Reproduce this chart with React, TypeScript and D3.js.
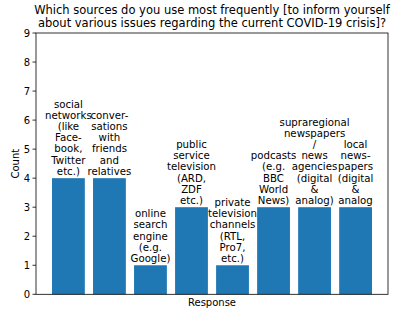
import React from "react";
import * as d3 from "d3";

const categories: string[][] = [
  ["social", "networks", "(like", "Face-", "book,", "Twitter", "etc.)"],
  ["conver-", "sations", "with", "friends", "and", "relatives"],
  ["online", "search", "engine", "(e.g.", "Google)"],
  ["public", "service", "television", "(ARD,", "ZDF", "etc.)"],
  ["private", "television", "channels", "(RTL,", "Pro7,", "etc.)"],
  ["podcasts", "(e.g.", "BBC", "World", "News)"],
  ["supraregional", "newspapers", "/", "news", "agencies", "(digital", "&", "analog)"],
  ["local", "news-", "papers", "(digital", "&", "analog"],
];
const counts = [4, 4, 1, 3, 1, 3, 3, 3];
const yTicks = [0, 1, 2, 3, 4, 5, 6, 7, 8, 9];
const titleLines = [
  "Which sources do you use most frequently [to inform yourself",
  "about various issues regarding the current COVID-19 crisis]?",
];

export default function App() {
  const width = 394;
  const height = 311;
  const left = 36, right = 388, top = 33, bottom = 294.3;
  const font = "DejaVu Sans, sans-serif";

  const n = counts.length;
  const pad = 0.05 * (n - 1 + 0.8);
  const x = d3.scaleLinear().domain([-0.4 - pad, n - 1 + 0.4 + pad]).range([left, right]);
  const y = d3.scaleLinear().domain([0, 9]).range([bottom, top]);
  const bw = x(0.4) - x(-0.4);
  const lineH = 11.1;

  return (
    <svg width={width} height={height} style={{ position: "absolute", left: 0, top: 0 }} fontFamily={font}>
      <rect width={width} height={height} fill="#fff" />
      {titleLines.map((t, i) => (
        <text key={i} x={(left + right) / 2} y={13.5 + i * 13.3} textAnchor="middle" fontSize={11.5}>
          {t}
        </text>
      ))}
      {counts.map((c, i) => (
        <rect key={i} x={x(i) - bw / 2} y={y(c)} width={bw} height={y(0) - y(c)} fill="#1f77b4" />
      ))}
      {categories.map((lines, i) => (
        <text key={i} textAnchor="middle" fontSize={10.2}>
          {lines.map((l, j) => (
            <tspan key={j} x={x(i)} y={y(counts[i]) - 3.5 - (lines.length - 1 - j) * lineH}>
              {l}
            </tspan>
          ))}
        </text>
      ))}
      <rect x={left} y={top} width={right - left} height={bottom - top} fill="none" stroke="#000" strokeWidth={0.8} />
      {yTicks.map((t) => (
        <g key={t} transform={`translate(0,${y(t)})`}>
          <line x1={left - 3.5} x2={left} stroke="#000" strokeWidth={0.8} />
          <text x={left - 6} dy="0.35em" textAnchor="end" fontSize={10}>
            {t}
          </text>
        </g>
      ))}
      <text transform={`translate(15,${(top + bottom) / 2}) rotate(-90)`} textAnchor="middle" dy="0.35em" fontSize={10}>
        Count
      </text>
      <text x={(left + right) / 2} y={306} textAnchor="middle" fontSize={10}>
        Response
      </text>
    </svg>
  );
}
